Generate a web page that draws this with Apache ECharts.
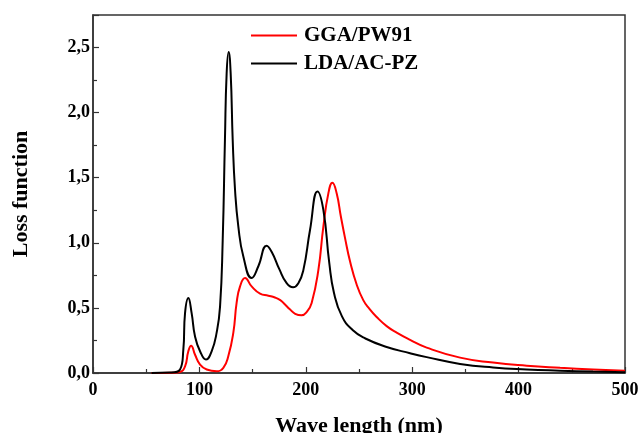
<!DOCTYPE html>
<html><head><meta charset="utf-8">
<script src="https://cdn.jsdelivr.net/npm/echarts@6/dist/echarts.min.js"></script>
<style>html,body{margin:0;padding:0;background:#fff}#c{width:640px;height:433px}</style>
</head><body><div id="c"></div>
<script>
var seriesNames = ['GGA/PW91', 'LDA/AC-PZ'];
var ggaX = [55, 75, 81.8, 86.5, 89.6, 92.2, 95.9, 100.6, 106.9, 116.2, 122.5, 127.2, 131.9, 135, 138.2, 142.9, 149.1, 157, 164.8, 171, 176, 180, 185, 190, 196, 201, 205.5, 211.8, 216.5, 221.2, 225, 229, 233, 236.8, 241.5, 247.8, 254, 260, 266.6, 276, 285.4, 298, 313.6, 345, 376, 407.6, 439, 470, 500];
var ggaY = [0, 0.002, 0.008, 0.05, 0.167, 0.21, 0.14, 0.065, 0.027, 0.014, 0.04, 0.13, 0.31, 0.54, 0.665, 0.73, 0.665, 0.61, 0.594, 0.58, 0.56, 0.53, 0.49, 0.455, 0.443, 0.47, 0.538, 0.79, 1.125, 1.38, 1.462, 1.38, 1.2, 1.04, 0.86, 0.68, 0.56, 0.49, 0.43, 0.36, 0.31, 0.255, 0.195, 0.118, 0.08, 0.056, 0.04, 0.027, 0.017];
var ldaX = [55, 72, 81.8, 84.9, 86.5, 89.6, 92.7, 95.9, 100.6, 106.2, 111.5, 116.2, 119.4, 121.9, 124, 125.6, 127.5, 129.4, 131.3, 133.5, 136.6, 141.3, 149.1, 155.4, 163.2, 168, 175, 182, 188, 193, 197.7, 204, 211, 216.5, 222, 226.5, 234, 244, 256, 276, 298, 313.6, 345, 376, 407.6, 439, 470, 500];
var ldaY = [0, 0.003, 0.027, 0.18, 0.46, 0.576, 0.46, 0.28, 0.167, 0.103, 0.167, 0.31, 0.51, 1.02, 1.79, 2.3, 2.466, 2.3, 1.79, 1.406, 1.125, 0.895, 0.73, 0.82, 0.977, 0.93, 0.8, 0.69, 0.658, 0.69, 0.79, 1.1, 1.395, 1.253, 0.85, 0.615, 0.435, 0.33, 0.265, 0.2, 0.152, 0.122, 0.07, 0.042, 0.027, 0.018, 0.011, 0.006];
var xTicks = [0, 100, 200, 300, 400, 500];
var yTicks = [0, 0.5, 1, 1.5, 2, 2.5];

function pairs(xs, ys) { return xs.map(function (x, i) { return [x, ys[i]]; }); }

var font = '"Liberation Serif", "Times New Roman", serif';
var chart = echarts.init(document.getElementById('c'), null, {renderer: 'canvas'});
chart.setOption({
  animation: false,
  backgroundColor: '#fff',
  grid: {left: 93, right: 15, top: 15, bottom: 60, containLabel: false, outerBoundsMode: 'none', show: true, borderColor: '#333', borderWidth: 1.5, backgroundColor: 'transparent'},
  legend: {
    orient: 'vertical', left: 246, top: 20, itemGap: 7,
    itemWidth: 46, itemHeight: 2, icon: 'rect',
    textStyle: {fontFamily: font, fontWeight: 'bold', fontSize: 21, color: '#000', padding: [0, 0, 0, 2]},
    data: seriesNames
  },
  xAxis: {
    type: 'value', min: xTicks[0], max: xTicks[xTicks.length - 1], interval: 100,
    name: 'Wave length (nm)', nameLocation: 'middle', nameGap: 42,
    nameTextStyle: {fontFamily: font, fontWeight: 'bold', fontSize: 22, color: '#000'},
    axisLine: {show: true, lineStyle: {color: '#333', width: 1.5}},
    axisTick: {show: true, inside: true, length: 6, lineStyle: {color: '#333', width: 1.2}},
    minorTick: {show: true, splitNumber: 2, length: 4, lineStyle: {color: '#333', width: 1.2}},
    axisLabel: {fontFamily: font, fontWeight: 'bold', fontSize: 18, color: '#000', margin: 8},
    splitLine: {show: false}
  },
  yAxis: {
    type: 'value', min: 0, max: 2.75, interval: 0.5,
    name: 'Loss function', nameLocation: 'middle', nameGap: 61, nameRotate: 90,
    nameTextStyle: {fontFamily: font, fontWeight: 'bold', fontSize: 22, color: '#000'},
    axisLine: {show: true, lineStyle: {color: '#333', width: 1.5}},
    axisTick: {show: true, inside: true, length: 6, lineStyle: {color: '#333', width: 1.2}},
    minorTick: {show: true, splitNumber: 2, length: 4, lineStyle: {color: '#333', width: 1.2}},
    axisLabel: {
      fontFamily: font, fontWeight: 'bold', fontSize: 18, color: '#000', margin: 3, showMaxLabel: false,
      formatter: function (v) { return yTicks.indexOf(v) >= 0 ? v.toFixed(1).replace('.', ',') : ''; }
    },
    splitLine: {show: false}
  },
  series: [
    {name: seriesNames[0], type: 'line', data: pairs(ggaX, ggaY), smooth: 0.5, showSymbol: false, lineStyle: {color: '#ff0000', width: 2}, itemStyle: {color: '#ff0000'}, z: 2},
    {name: seriesNames[1], type: 'line', data: pairs(ldaX, ldaY), smooth: 0.5, showSymbol: false, lineStyle: {color: '#000000', width: 2}, itemStyle: {color: '#000000'}, z: 3}
  ]
});
</script></body></html>
